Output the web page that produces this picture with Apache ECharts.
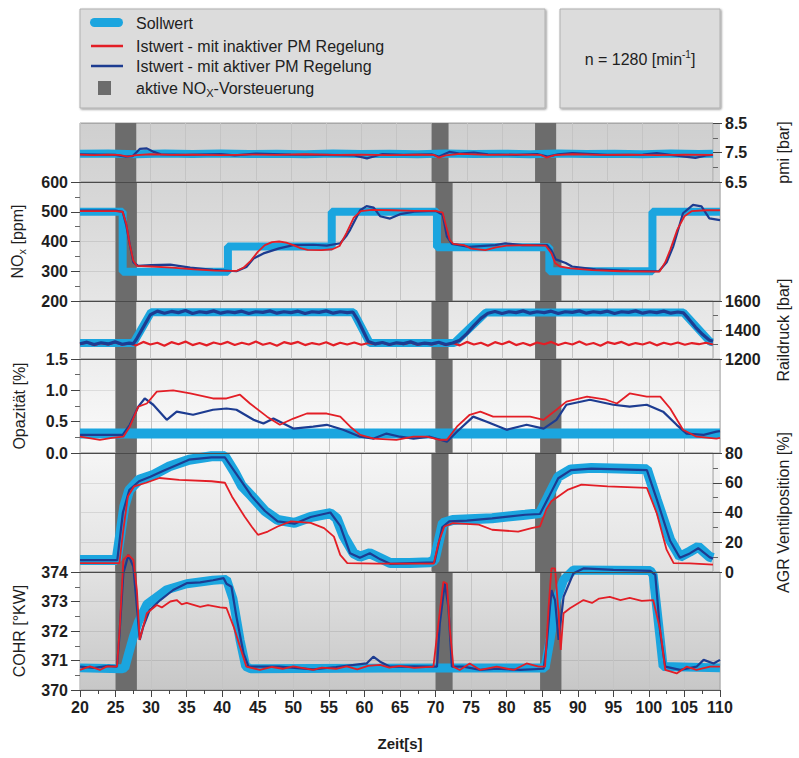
<!DOCTYPE html>
<html>
<head>
<meta charset="utf-8">
<title>PM Regelung n = 1280</title>
<script src="https://cdn.jsdelivr.net/npm/echarts@6/dist/echarts.min.js"></script>
<style>
    html, body { margin: 0; padding: 0; background: #fff; }
    #chart { width: 799px; height: 758px; }
</style>
</head>
<body>
<div id="chart"></div>
<script>
// Zeitbereiche mit aktiver NOx-Vorsteuerung [s]
var vorsteuerung = [[25, 28], [70, 72.4], [84.7, 87.7]];

// pmi [bar]
var pmiSoll = [[20,7.46],[24,7.47],[28,7.44],[32,7.47],[36,7.45],[40,7.47],[44,7.45],[48,7.46],[52,7.44],[56,7.47],[60,7.45],[64,7.46],[68,7.44],[72,7.47],[76,7.45],[80,7.46],[84,7.44],[88,7.47],[92,7.45],[96,7.46],[100,7.44],[104,7.47],[108,7.45],[110,7.46]];
var pmiInaktiv = [[20,7.43],[22,7.41],[24,7.43],[25.5,7.42],[26.8,7.36],[28,7.41],[30,7.44],[33,7.42],[36,7.43],[40,7.41],[44,7.43],[48,7.42],[52,7.44],[56,7.42],[60,7.43],[64,7.41],[68,7.43],[70.3,7.42],[71,7.33],[72,7.40],[74,7.45],[78,7.42],[82,7.43],[85.5,7.42],[86.3,7.33],[87.5,7.41],[90,7.44],[94,7.42],[98,7.43],[102,7.41],[106,7.43],[110,7.42]];
var pmiAktiv = [[20,7.44],[25,7.42],[26.5,7.36],[27.5,7.38],[28.5,7.62],[29.5,7.64],[30.5,7.52],[31.5,7.44],[35,7.42],[40,7.45],[42,7.40],[45,7.46],[50,7.43],[55,7.42],[59,7.40],[60.8,7.30],[62,7.38],[63,7.45],[66,7.42],[70,7.44],[71,7.36],[72.5,7.52],[74,7.46],[76,7.50],[78,7.44],[82,7.42],[85,7.45],[86.5,7.36],[88,7.44],[90,7.48],[95,7.42],[100,7.43],[102,7.48],[104,7.42],[106,7.36],[107.5,7.32],[109,7.40],[110,7.42]];

// NOx [ppm]
var noxSoll = [[20,500],[26,500],[26,298],[40.8,298],[40.8,383],[55.4,383],[55.4,500],[70.2,500],[70.2,381],[86,381],[86,300],[100.5,300],[100.5,500],[110,500]];
var noxInaktiv = [[20,502],[25,502],[26,500],[26.5,460],[27,390],[27.5,335],[28,318],[30,316],[33,312],[36,306],[39,302],[42,301],[43,312],[44,335],[45,365],[46,388],[47,398],[48,400],[49,396],[50,388],[51,378],[52,372],[54,371],[55.5,374],[56.5,385],[57.5,430],[58.5,480],[59.5,502],[61,506],[64,505],[67,503],[70,503],[71,497],[71.5,450],[72,405],[72.5,392],[74,388],[75,376],[77,371],[78.5,380],[80,386],[83,388],[85.5,386],[86.3,360],[86.8,328],[87.5,316],[89,310],[92,304],[96,300],[101.5,299],[102.3,330],[103,372],[104,440],[105,485],[106,502],[108,505],[110,505]];
var noxAktiv = [[20,504],[25,504],[26,500],[26.5,455],[27,390],[27.5,330],[28.2,318],[30,321],[32.7,322],[35.5,312],[38.7,305],[42,300],[43.4,314],[44.4,343],[45.8,360],[48,377],[50,388],[52.8,389],[54.7,386],[56.6,394],[57.5,420],[58,440],[59.4,505],[60.3,519],[61.3,514],[62.2,485],[63.6,477],[65,492],[67,500],[70,503],[71,490],[71.6,416],[72.3,392],[74.7,382],[78.4,388],[79.8,394],[82.2,388],[85.7,388],[86.3,370],[86.9,340],[88.3,328],[89.2,316],[92.5,306],[97.2,301],[101.4,300],[102.5,330],[103.4,382],[104.8,495],[106.2,523],[107.4,518],[108.5,478],[110,472]];

// Raildruck [bar]
var railSoll = [[20,1310],[27.6,1310],[30.1,1522],[58.9,1522],[61.2,1310],[73.2,1310],[77.7,1520],[105.8,1520],[109.6,1318],[110,1316]];
var railInaktiv = [[20,1302],[21,1314],[22,1296],[23,1310],[24,1300],[25,1316],[26,1298],[27,1308],[28,1294],[29,1318],[30,1300],[31,1312],[32,1292],[33,1316],[34,1302],[35,1320],[36,1296],[37,1310],[38,1294],[39,1314],[40,1302],[41,1318],[42,1296],[43,1312],[44,1300],[45,1320],[46,1298],[47,1310],[48,1292],[49,1316],[50,1304],[51,1318],[52,1296],[53,1310],[54,1300],[55,1316],[56,1294],[57,1312],[58,1300],[59,1314],[60,1298],[61,1310],[62,1302],[63,1312],[64,1298],[65,1310],[66,1302],[67,1314],[68,1298],[69,1308],[70,1300],[71,1312],[72,1296],[73,1310],[74,1294],[75,1318],[76,1300],[77,1312],[78,1292],[79,1316],[80,1302],[81,1320],[82,1296],[83,1310],[84,1294],[85,1314],[86,1302],[87,1318],[88,1296],[89,1312],[90,1300],[91,1320],[92,1298],[93,1310],[94,1292],[95,1316],[96,1304],[97,1318],[98,1296],[99,1310],[100,1300],[101,1316],[102,1294],[103,1312],[104,1300],[105,1314],[106,1298],[107,1310],[108,1302],[109,1312],[110,1300]];
var railAktiv = [[20,1305],[21,1316],[22,1300],[23,1312],[24,1304],[25,1318],[26,1302],[27,1310],[27.6,1306],[28,1335],[29,1420],[30,1505],[31,1530],[32,1516],[33,1528],[34,1520],[35,1534],[36,1514],[37,1526],[38,1520],[39,1532],[40,1516],[41,1526],[42,1520],[43,1530],[44,1514],[45,1526],[46,1522],[47,1532],[48,1516],[49,1526],[50,1520],[51,1530],[52,1514],[53,1526],[54,1522],[55,1532],[56,1516],[57,1526],[58,1520],[58.8,1524],[59.5,1470],[60.3,1390],[61,1320],[62,1304],[63,1314],[64,1300],[65,1312],[66,1306],[67,1318],[68,1302],[69,1310],[70,1304],[71,1316],[72,1300],[73,1310],[74,1330],[75,1375],[76,1430],[77,1480],[78,1515],[79,1528],[80,1514],[81,1526],[82,1520],[83,1532],[84,1516],[85,1526],[86,1520],[87,1530],[88,1514],[89,1526],[90,1522],[91,1532],[92,1516],[93,1526],[94,1520],[95,1530],[96,1514],[97,1526],[98,1522],[99,1532],[100,1516],[101,1526],[102,1520],[103,1530],[104,1516],[105,1524],[105.8,1518],[106.5,1480],[107.5,1420],[108.5,1370],[109.5,1330],[110,1322]];

// Opazitaet [%]
var opaSoll = [[20,0.31],[110,0.31]];
var opaInaktiv = [[20,0.26],[22.8,0.21],[24.5,0.24],[26.1,0.26],[27,0.42],[28.2,0.74],[29.4,0.79],[30.8,0.98],[33.1,1.0],[35.5,0.95],[38.7,0.87],[40.6,0.87],[42.5,0.93],[43.9,0.79],[46.3,0.58],[48.1,0.45],[50,0.55],[51.9,0.63],[54.7,0.63],[56.6,0.58],[58,0.42],[59.4,0.29],[61.3,0.23],[64.5,0.21],[66.9,0.26],[68.75,0.26],[70.6,0.21],[71.6,0.21],[73,0.42],[74.8,0.61],[76.3,0.66],[78.1,0.58],[80.9,0.58],[83.3,0.58],[85.2,0.53],[87,0.69],[88.4,0.82],[91.3,0.9],[94,0.85],[95.5,0.79],[97.3,0.95],[99.7,0.9],[101.6,0.9],[103,0.71],[104.8,0.37],[106.7,0.26],[109.5,0.23],[110,0.24]];
var opaAktiv = [[20,0.29],[26,0.29],[27,0.45],[28.2,0.74],[29.1,0.87],[30.3,0.77],[32.2,0.53],[33.6,0.66],[35.9,0.61],[38.7,0.69],[40.6,0.71],[42,0.69],[44.4,0.53],[45.8,0.47],[47.2,0.55],[50,0.39],[52.8,0.42],[54.7,0.45],[57,0.37],[59.4,0.26],[61.3,0.23],[63.1,0.31],[65,0.26],[66.9,0.23],[69.2,0.26],[71.6,0.18],[73,0.34],[75.3,0.58],[77.2,0.5],[80,0.37],[82.8,0.45],[85.2,0.39],[87,0.53],[88.4,0.77],[91.7,0.85],[95,0.77],[97.3,0.74],[99.7,0.77],[102,0.66],[103.9,0.45],[105.3,0.31],[107.7,0.29],[109.5,0.34],[110,0.35]];

// AGR Ventilposition [%]
var agrSoll = [[20,8],[25.2,8],[25.6,21],[26.3,44],[27,55],[28.4,62],[30.3,65],[32.7,71],[35.5,75.5],[38.7,77.8],[40.6,77.8],[42,67],[43,58],[44.4,51],[46.3,41],[48.1,35],[50.5,33],[52.8,37],[55.6,39.5],[56.5,36],[57.5,24],[58.9,12.6],[59.8,10.3],[61.2,12.6],[62.7,9.2],[64.1,6],[66.9,6],[69.7,6.5],[70.4,8],[71.6,33],[73,35],[78.6,36.2],[83.3,38.5],[85.4,39.6],[86.6,51],[88,64],[89.8,69],[92.7,70],[100.6,69],[102,48.6],[103.9,21.6],[105.3,10.3],[106.7,13.7],[107.9,17],[109.5,10.3],[110,9.5]];
var agrInaktiv = [[20,6],[25.6,6],[26.1,26],[26.8,50.8],[27.7,57.6],[29.4,60],[31.3,63.2],[34.1,62],[38.7,61],[40.6,60],[41.6,50.8],[42.5,44],[43.4,37.3],[44.4,30.6],[45.3,25],[46.7,27.2],[48.1,30.6],[50,34],[52.8,33],[54.7,29.5],[56.1,23.8],[57,11.5],[58,6],[62.2,5.6],[70.3,5.6],[71,20],[71.8,30.6],[73,32.9],[76.7,31.8],[78.6,28.4],[82.3,27.2],[84.2,29.5],[85.4,30.6],[86.3,42],[87,47.5],[88,50.8],[89.4,55.4],[91.3,58.7],[95,57.6],[100.6,56.5],[102,39.6],[103.4,15],[104.4,6],[106.7,5.8],[110,5]];
var agrAktiv = [[20,8],[25.3,8],[25.8,28],[26.1,40],[27,55],[28.4,61],[30,64],[31.7,67.7],[35.5,75.5],[38.7,77],[40.6,77],[42,67.5],[44.4,51],[46.3,41],[48.1,34],[50.5,32.5],[52.8,37],[55.6,40],[57,31],[58.4,12.6],[59.8,9.5],[61.2,12.6],[62.7,8.5],[64.1,5.5],[70.4,6.5],[71.5,30],[72.5,34],[75,34.5],[78.6,36],[83.3,38.5],[85.4,39],[86.6,50],[88,63],[89.8,68.5],[92.7,69.5],[100.6,68.5],[102,49],[103.9,21],[105.3,9.5],[106.7,12.5],[107.9,16],[109.5,10],[110,9]];

// COHR [°KW]
var cohrSoll = [[20,370.75],[25.8,370.72],[26.3,370.75],[26.8,371.2],[27.5,371.8],[28.2,372.3],[29.4,372.9],[30.5,373.1],[32.2,373.4],[35,373.6],[38.7,373.72],[40.6,373.75],[41.5,373.1],[42.5,371.7],[43.3,370.8],[44,370.72],[70,370.75],[85.4,370.75],[86.1,371.7],[87,373.05],[88,373.73],[89.4,374.07],[100.2,374.05],[100.6,373.9],[101.6,371.7],[102,370.8],[110,370.75]];
var cohrInaktiv = [[20,370.68],[21.4,370.8],[22.8,370.68],[23.8,370.8],[25.2,370.79],[25.6,372.15],[26.1,374.41],[26.8,374.58],[27.5,374.41],[28,373.39],[28.4,371.7],[28.9,372.15],[29.4,372.6],[30.8,372.88],[31.5,372.8],[32.7,373.0],[33.6,373.05],[34.3,372.9],[35,372.95],[36.9,372.82],[38,372.88],[39.7,372.8],[40.6,372.78],[41.6,372.15],[42.5,371.47],[43.4,370.79],[45.3,370.68],[47,370.78],[48.5,370.72],[50,370.8],[52.8,370.68],[54,370.76],[56,370.72],[57.5,370.8],[59,370.7],[60.5,370.82],[62.2,370.85],[63.5,370.76],[65,370.82],[67,370.75],[69.7,370.79],[70.4,372.26],[71.1,373.67],[71.6,373.6],[72,372.1],[72.5,370.79],[73.4,370.68],[74.8,370.9],[76.3,370.68],[78.6,370.79],[81,370.68],[82.8,370.9],[84.5,370.79],[85.4,370.79],[85.9,372.82],[86.3,374.12],[86.8,374.12],[87.3,372.6],[87.6,371.36],[88,372.6],[88.9,372.77],[90.8,373.05],[92,372.95],[93,373.1],[94.5,373.16],[96,373.05],[97.3,373.12],[99,373.02],[100.6,373.05],[101.6,372.03],[102.3,370.68],[103.9,370.56],[105.3,370.79],[106.7,370.68],[108.6,370.79],[110,370.79]];
var cohrAktiv = [[20,370.79],[22,370.75],[24,370.82],[25.2,370.79],[25.5,371.7],[26.1,373.96],[26.8,374.58],[27.5,374.18],[28,372.82],[28.4,371.7],[28.9,372.15],[29.8,372.71],[31.3,373.05],[33.1,373.39],[35,373.62],[36.9,373.65],[38.7,373.72],[40.2,373.79],[40.6,373.6],[41.3,373.5],[42,372.48],[43,371.24],[43.7,370.79],[48,370.79],[52.8,370.7],[56,370.78],[60.3,370.9],[61.25,371.13],[62.2,370.96],[63.6,370.79],[66.9,370.8],[70.2,370.79],[70.6,372.26],[71.3,373.62],[71.8,372.82],[72.3,370.79],[73.9,370.79],[76.3,370.68],[78.6,370.72],[81.9,370.68],[85.2,370.72],[85.6,371.47],[86.3,373.39],[86.8,373.05],[87.3,371.7],[88,373.16],[89.4,373.96],[90.8,374.12],[95,374.07],[100.2,374.04],[100.9,373.9],[101.6,371.92],[102.3,370.79],[104.4,370.68],[106.7,370.79],[107.7,371.02],[109.1,370.9],[110,371.02]];

var FONT = 'Liberation Sans';
var BLAU_HELL = '#1ba5df';
var ROT = '#e31e26';
var BLAU = '#1d3c91';
var BAND = '#6c6c6c';

// Teilbereiche des Diagramms, von oben nach unten
var bereiche = [
    { top: 123, height: 59,  min: 6.5,  max: 8.5,  interval: 1,   side: 'right', name: 'pmi [bar]', digits: 1, soll: pmiSoll, rot: pmiInaktiv, blau: pmiAktiv, breite: 8 },
    { top: 182, height: 119, min: 200,  max: 600,  interval: 100, side: 'left',  name: '{a|NO}{s|x}{a| [ppm]}', digits: 0, soll: noxSoll, rot: noxInaktiv, blau: noxAktiv, breite: 8 },
    { top: 301, height: 58,  min: 1200, max: 1600, interval: 200, side: 'right', name: 'Raildruck [bar]', digits: 0, soll: railSoll, rot: railInaktiv, blau: railAktiv, breite: 8, blauOben: true },
    { top: 359, height: 94,  min: 0,    max: 1.5,  interval: 0.5, side: 'left',  name: 'Opazität [%]', digits: 1, soll: opaSoll, rot: opaInaktiv, blau: opaAktiv, breite: 10 },
    { top: 453, height: 119, min: 0,    max: 80,   interval: 20,  side: 'right', name: 'AGR Ventilposition [%]', digits: 0, soll: agrSoll, rot: agrInaktiv, blau: agrAktiv, breite: 10 },
    { top: 572, height: 118, min: 370,  max: 374,  interval: 1,   side: 'left',  name: 'COHR [°KW]', digits: 0, soll: cohrSoll, rot: cohrInaktiv, blau: cohrAktiv, breite: 9 }
];

var chart = echarts.init(document.getElementById('chart'), null, { renderer: 'svg' });

var grids = [], xAxes = [], yAxes = [], series = [];
var letzter = bereiche.length - 1;

bereiche.forEach(function (b, i) {
    var unten = i === letzter;
    grids.push({
        left: 80, right: 79, top: b.top, height: b.height,
        show: true, borderColor: '#a3a3a3', borderWidth: 1, backgroundColor: 'transparent'
    });
    xAxes.push({
        type: 'value', gridIndex: i, min: 20, max: 110, interval: 5,
        axisLine: { show: unten, lineStyle: { color: '#555' } },
        axisTick: { show: unten, length: 7, lineStyle: { color: '#444' } },
        minorTick: { show: unten, splitNumber: 2, length: 4, lineStyle: { color: '#444' } },
        axisLabel: { show: unten, margin: 9, fontFamily: FONT, fontSize: 16, fontWeight: 'bold', color: '#1e1e1e' },
        splitLine: { show: true, lineStyle: { color: '#c4c4c4', width: 1 } },
        name: unten ? 'Zeit[s]' : '',
        nameLocation: 'middle', nameGap: 46,
        nameTextStyle: { fontFamily: FONT, fontSize: 15, fontWeight: 'bold', color: '#1e1e1e' }
    });
    yAxes.push({
        type: 'value', gridIndex: i, position: b.side, min: b.min, max: b.max, interval: b.interval,
        axisLine: { show: false },
        axisTick: { show: true, length: 9, lineStyle: { color: '#444' } },
        minorTick: { show: true, splitNumber: 2, length: 5, lineStyle: { color: '#666' } },
        axisLabel: {
            margin: 12, fontFamily: FONT, fontSize: 16, fontWeight: 'bold', color: '#1e1e1e',
            formatter: function (v) { return v.toFixed(b.digits); }
        },
        splitLine: { show: true, lineStyle: { color: 'rgba(0,0,0,0.09)' } },
        name: b.name, nameLocation: 'middle', nameRotate: 90,
        nameGap: b.side === 'left' ? 53 : 62,
        nameTextStyle: {
            fontFamily: FONT, fontSize: 16, color: '#1e1e1e',
            rich: {
                a: { fontFamily: FONT, fontSize: 16, color: '#1e1e1e', lineHeight: 20 },
                s: { fontFamily: FONT, fontSize: 11, color: '#1e1e1e', lineHeight: 13, verticalAlign: 'bottom' }
            }
        }
    });

    // Vorsteuerung als dunkle Streifen, Trennlinie zum Bereich darueber
    series.push({
        name: 'aktive NOx-Vorsteuerung', type: 'line', xAxisIndex: i, yAxisIndex: i,
        data: [], z: 1, silent: true, animation: false,
        markArea: {
            silent: true,
            itemStyle: { color: BAND, opacity: 1 },
            data: vorsteuerung.map(function (v) { return [{ xAxis: v[0] }, { xAxis: v[1] }]; })
        },
        markLine: i === 0 ? undefined : {
            silent: true, symbol: ['none', 'none'], label: { show: false },
            lineStyle: { color: '#4a4a4a', width: 1.2, type: 'solid' },
            data: [{ yAxis: b.max }]
        }
    });
    series.push({
        name: 'Sollwert', type: 'line', xAxisIndex: i, yAxisIndex: i,
        data: b.soll, symbol: 'none', clip: false, z: 2, silent: true, animation: false,
        lineStyle: { color: BLAU_HELL, width: b.breite }, itemStyle: { color: BLAU_HELL }
    });
    series.push({
        name: 'Istwert - mit inaktiver PM Regelung', type: 'line', xAxisIndex: i, yAxisIndex: i,
        data: b.rot, symbol: 'none', clip: false, z: b.blauOben ? 3 : 4, silent: true, animation: false,
        lineStyle: { color: ROT, width: b.blauOben ? 2.2 : 1.8 }, itemStyle: { color: ROT }
    });
    series.push({
        name: 'Istwert - mit aktiver PM Regelung', type: 'line', xAxisIndex: i, yAxisIndex: i,
        data: b.blau, symbol: 'none', clip: false, z: b.blauOben ? 4 : 3, silent: true, animation: false,
        lineStyle: { color: BLAU, width: b.blauOben ? 3.2 : 2.2 }, itemStyle: { color: BLAU }
    });
});

var textStil = { fontFamily: FONT, fontSize: 16, fill: '#1e1e1e' };

chart.setOption({
    backgroundColor: '#ffffff',
    animation: false,
    grid: grids,
    xAxis: xAxes,
    yAxis: yAxes,
    series: series,
    graphic: [
        {
            type: 'rect', z: -10, silent: true,
            shape: { x: 80, y: 123, width: 640, height: 567 },
            style: {
                fill: new echarts.graphic.LinearGradient(0, 0, 0, 1, [
                    { offset: 0, color: '#cfcfcf' },
                    { offset: 0.12, color: '#d6d6d6' },
                    { offset: 0.55, color: '#f8f8f8' },
                    { offset: 0.8, color: '#e1e1e1' },
                    { offset: 1, color: '#c7c7c7' }
                ])
            }
        },
        // Legende
        {
            type: 'rect', silent: true,
            shape: { x: 80, y: 9, width: 465, height: 99 },
            style: { fill: '#dcdcdc', stroke: '#b0b0b0', lineWidth: 1, shadowBlur: 2, shadowOffsetX: 1, shadowOffsetY: 1, shadowColor: 'rgba(0,0,0,0.45)' }
        },
        {
            type: 'rect', silent: true,
            shape: { x: 560, y: 9, width: 160, height: 99 },
            style: { fill: '#dcdcdc', stroke: '#b0b0b0', lineWidth: 1, shadowBlur: 2, shadowOffsetX: 1, shadowOffsetY: 1, shadowColor: 'rgba(0,0,0,0.45)' }
        },
        { type: 'rect', silent: true, shape: { x: 90, y: 18, width: 33, height: 9, r: 4.5 }, style: { fill: BLAU_HELL } },
        { type: 'line', silent: true, shape: { x1: 91, y1: 46, x2: 123, y2: 46 }, style: { stroke: ROT, lineWidth: 2.5 } },
        { type: 'line', silent: true, shape: { x1: 91, y1: 66, x2: 123, y2: 66 }, style: { stroke: BLAU, lineWidth: 2.5 } },
        { type: 'rect', silent: true, shape: { x: 98, y: 81, width: 13, height: 14 }, style: { fill: BAND } },
        { type: 'text', silent: true, x: 136, y: 23, style: Object.assign({ text: 'Sollwert', verticalAlign: 'middle' }, textStil) },
        { type: 'text', silent: true, x: 136, y: 46, style: Object.assign({ text: 'Istwert - mit inaktiver PM Regelung', verticalAlign: 'middle' }, textStil) },
        { type: 'text', silent: true, x: 136, y: 66, style: Object.assign({ text: 'Istwert - mit aktiver PM Regelung', verticalAlign: 'middle' }, textStil) },
        {
            type: 'text', silent: true, x: 136, y: 88,
            style: Object.assign({
                text: '{a|aktive NO}{s|X}{a|-Vorsteuerung}', verticalAlign: 'middle',
                rich: {
                    a: { fontFamily: FONT, fontSize: 16, fill: '#1e1e1e', lineHeight: 20 },
                    s: { fontFamily: FONT, fontSize: 11, fill: '#1e1e1e', lineHeight: 13, verticalAlign: 'bottom' }
                }
            }, textStil)
        },
        {
            type: 'text', silent: true, x: 640, y: 59,
            style: Object.assign({
                text: '{a|n = 1280 [min}{p|-1}{a|]}', align: 'center', verticalAlign: 'middle',
                rich: {
                    a: { fontFamily: FONT, fontSize: 16, fill: '#1e1e1e', lineHeight: 20 },
                    p: { fontFamily: FONT, fontSize: 10, fill: '#1e1e1e', lineHeight: 20, verticalAlign: 'top', padding: [0, 0, 8, 0] }
                }
            }, textStil)
        }
    ]
});
</script>
</body>
</html>
